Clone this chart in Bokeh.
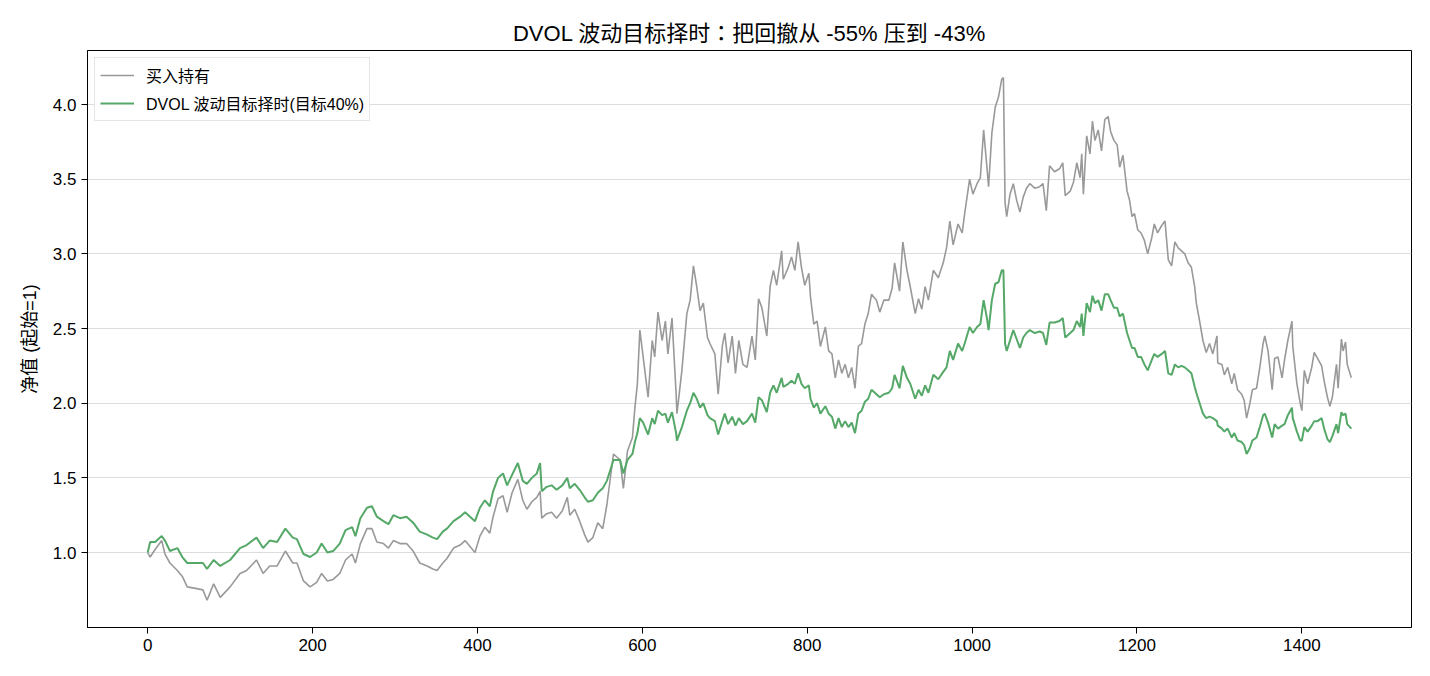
from bokeh.plotting import figure
from bokeh.models import Range1d, FixedTicker, Legend, LegendItem, NumeralTickFormatter
from bokeh.embed import file_html
from bokeh.resources import INLINE

# ---- data (day index, net value) ----
days = [0, 3, 9, 17, 21, 27, 36, 42, 48, 58, 67, 72, 80, 88, 100, 112, 120, 132, 140, 148,
        157, 167, 176, 181, 189, 197, 205, 211, 218, 225, 233, 240, 248, 252, 258, 266, 272, 278, 286, 292,
        298, 306, 314, 322, 330, 339, 346, 351, 358, 363, 371, 379, 385, 391, 397, 403, 409, 415, 419, 425,
        431, 436, 442, 449, 455, 460, 466, 472, 476, 478, 484, 490, 496, 503, 509, 512, 518, 524, 530, 534,
        540, 546, 552, 557, 565, 569, 573, 577, 582, 588, 591, 594, 597, 601, 607, 612, 615, 619, 624, 628,
        631, 636, 641, 642, 648, 654, 658, 662, 666, 670, 674, 679, 682, 688, 692, 697, 700, 704, 709, 713,
        717, 722, 727, 733, 737, 741, 745, 751, 755, 759, 763, 769, 771, 777, 781, 785, 789, 793, 797, 802,
        804, 808, 812, 816, 822, 826, 830, 834, 838, 842, 846, 850, 854, 858, 862, 866, 870, 874, 878, 884,
        888, 893, 899, 903, 906, 912, 916, 921, 925, 931, 935, 939, 943, 947, 953, 959, 965, 969, 973, 977,
        983, 988, 991, 997, 1001, 1006, 1010, 1014, 1018, 1020, 1024, 1028, 1032, 1036, 1038, 1040, 1042, 1046, 1050, 1054,
        1058, 1062, 1066, 1070, 1076, 1082, 1086, 1090, 1094, 1100, 1106, 1110, 1113, 1119, 1123, 1127, 1131, 1133, 1135, 1139,
        1143, 1146, 1149, 1153, 1157, 1161, 1165, 1168, 1172, 1176, 1179, 1183, 1188, 1191, 1194, 1197, 1201, 1205, 1209, 1213,
        1218, 1221, 1225, 1230, 1234, 1238, 1242, 1246, 1250, 1254, 1258, 1262, 1266, 1270, 1272, 1276, 1280, 1284, 1288, 1292,
        1297, 1298, 1303, 1306, 1310, 1315, 1318, 1322, 1327, 1330, 1333, 1337, 1340, 1345, 1349, 1353, 1355, 1359, 1364, 1367,
        1371, 1376, 1379, 1383, 1388, 1389, 1394, 1398, 1400, 1403, 1407, 1412, 1415, 1419, 1424, 1427, 1431, 1434, 1437, 1442,
        1444, 1448, 1450, 1453, 1455, 1460]

buy_hold = [1.00, 0.97, 1.02, 1.08, 0.99, 0.93, 0.88, 0.84, 0.77, 0.76, 0.75, 0.68, 0.79, 0.70, 0.77, 0.86, 0.88, 0.95, 0.86, 0.91,
            0.91, 1.01, 0.93, 0.93, 0.81, 0.77, 0.80, 0.86, 0.81, 0.82, 0.86, 0.95, 0.99, 0.93, 1.06, 1.16, 1.16, 1.07, 1.06, 1.03,
            1.08, 1.06, 1.06, 1.01, 0.93, 0.91, 0.89, 0.88, 0.93, 0.96, 1.03, 1.05, 1.08, 1.04, 1.00, 1.11, 1.17, 1.13, 1.24, 1.36,
            1.38, 1.27, 1.40, 1.49, 1.35, 1.29, 1.34, 1.37, 1.41, 1.23, 1.26, 1.27, 1.23, 1.28, 1.37, 1.25, 1.29, 1.21, 1.12, 1.07,
            1.10, 1.20, 1.16, 1.32, 1.66, 1.64, 1.62, 1.43, 1.68, 1.77, 1.97, 2.13, 2.49, 2.31, 2.04, 2.42, 2.31, 2.61, 2.42, 2.55,
            2.33, 2.57, 2.06, 1.93, 2.22, 2.60, 2.69, 2.92, 2.78, 2.62, 2.67, 2.44, 2.40, 2.33, 2.06, 2.38, 2.47, 2.27, 2.45, 2.20,
            2.42, 2.26, 2.24, 2.45, 2.29, 2.70, 2.64, 2.45, 2.78, 2.89, 2.79, 3.02, 2.83, 2.91, 2.98, 2.89, 3.08, 2.91, 2.79, 2.87,
            2.71, 2.53, 2.55, 2.38, 2.51, 2.35, 2.33, 2.17, 2.29, 2.20, 2.26, 2.17, 2.24, 2.10, 2.38, 2.40, 2.53, 2.60, 2.73, 2.69,
            2.61, 2.69, 2.69, 2.77, 2.94, 2.75, 3.08, 2.89, 2.78, 2.60, 2.70, 2.63, 2.78, 2.69, 2.89, 2.84, 2.94, 3.04, 3.22, 3.06,
            3.20, 3.14, 3.27, 3.50, 3.40, 3.47, 3.51, 3.83, 3.58, 3.45, 3.81, 3.98, 4.05, 4.17, 4.18, 3.34, 3.25, 3.40, 3.47, 3.36,
            3.28, 3.38, 3.44, 3.47, 3.44, 3.45, 3.47, 3.29, 3.59, 3.55, 3.57, 3.61, 3.39, 3.42, 3.48, 3.61, 3.51, 3.67, 3.40, 3.79,
            3.67, 3.89, 3.76, 3.83, 3.69, 3.90, 3.92, 3.82, 3.76, 3.73, 3.58, 3.66, 3.42, 3.36, 3.25, 3.27, 3.16, 3.14, 3.09, 3.00,
            3.11, 3.20, 3.14, 3.19, 3.22, 2.96, 2.92, 3.08, 3.04, 3.02, 3.00, 2.94, 2.91, 2.78, 2.67, 2.55, 2.42, 2.34, 2.40, 2.33,
            2.45, 2.27, 2.26, 2.19, 2.24, 2.13, 2.20, 2.09, 2.06, 2.02, 1.90, 2.00, 2.09, 2.10, 2.24, 2.40, 2.45, 2.35, 2.09, 2.30,
            2.31, 2.17, 2.29, 2.42, 2.55, 2.38, 2.13, 2.00, 1.95, 2.22, 2.13, 2.24, 2.34, 2.30, 2.25, 2.15, 2.04, 1.98, 2.04, 2.26,
            2.10, 2.43, 2.35, 2.41, 2.26, 2.17]

vol_target = [1.00, 1.07, 1.07, 1.11, 1.08, 1.01, 1.03, 0.97, 0.93, 0.93, 0.93, 0.89, 0.95, 0.91, 0.95, 1.03, 1.05, 1.10, 1.03, 1.08,
              1.07, 1.16, 1.10, 1.09, 0.99, 0.97, 1.00, 1.06, 1.00, 1.01, 1.06, 1.15, 1.17, 1.11, 1.23, 1.30, 1.31, 1.24, 1.21, 1.19,
              1.25, 1.23, 1.24, 1.20, 1.14, 1.12, 1.10, 1.09, 1.14, 1.16, 1.21, 1.24, 1.27, 1.24, 1.21, 1.30, 1.35, 1.31, 1.41, 1.50,
              1.53, 1.45, 1.52, 1.60, 1.48, 1.46, 1.50, 1.53, 1.60, 1.41, 1.44, 1.45, 1.42, 1.45, 1.50, 1.43, 1.46, 1.42, 1.37, 1.34,
              1.35, 1.40, 1.43, 1.48, 1.62, 1.62, 1.62, 1.53, 1.62, 1.66, 1.74, 1.80, 1.90, 1.87, 1.79, 1.90, 1.86, 1.95, 1.92, 1.93,
              1.87, 1.94, 1.80, 1.75, 1.84, 1.95, 2.00, 2.07, 2.03, 1.97, 2.00, 1.92, 1.90, 1.88, 1.79, 1.88, 1.93, 1.86, 1.91, 1.85,
              1.90, 1.86, 1.88, 1.93, 1.87, 2.04, 2.02, 1.94, 2.07, 2.12, 2.07, 2.17, 2.11, 2.13, 2.15, 2.13, 2.20, 2.13, 2.10, 2.12,
              2.03, 1.97, 2.00, 1.93, 1.98, 1.93, 1.91, 1.83, 1.90, 1.84, 1.88, 1.84, 1.87, 1.80, 1.93, 1.95, 2.01, 2.03, 2.09, 2.06,
              2.04, 2.06, 2.07, 2.10, 2.19, 2.10, 2.25, 2.17, 2.13, 2.03, 2.09, 2.05, 2.12, 2.07, 2.19, 2.16, 2.21, 2.24, 2.35, 2.29,
              2.40, 2.35, 2.40, 2.51, 2.47, 2.51, 2.53, 2.69, 2.57, 2.49, 2.69, 2.80, 2.81, 2.89, 2.89, 2.40, 2.35, 2.42, 2.49, 2.43,
              2.37, 2.44, 2.47, 2.49, 2.47, 2.48, 2.47, 2.39, 2.54, 2.54, 2.55, 2.57, 2.44, 2.47, 2.49, 2.55, 2.51, 2.60, 2.45, 2.67,
              2.61, 2.72, 2.67, 2.69, 2.62, 2.73, 2.73, 2.69, 2.64, 2.64, 2.58, 2.60, 2.47, 2.42, 2.37, 2.37, 2.31, 2.31, 2.26, 2.22,
              2.29, 2.33, 2.31, 2.33, 2.35, 2.20, 2.19, 2.26, 2.24, 2.25, 2.24, 2.22, 2.20, 2.11, 2.07, 2.00, 1.93, 1.90, 1.91, 1.90,
              1.88, 1.85, 1.83, 1.81, 1.83, 1.77, 1.80, 1.75, 1.74, 1.72, 1.66, 1.70, 1.75, 1.77, 1.84, 1.92, 1.93, 1.87, 1.77, 1.86,
              1.83, 1.85, 1.86, 1.92, 1.97, 1.90, 1.81, 1.75, 1.75, 1.84, 1.81, 1.85, 1.88, 1.88, 1.90, 1.83, 1.76, 1.74, 1.78, 1.86,
              1.80, 1.94, 1.92, 1.93, 1.86, 1.83]

x_ticks = [0, 200, 400, 600, 800, 1000, 1200, 1400]
y_ticks = [1.0, 1.5, 2.0, 2.5, 3.0, 3.5, 4.0]

title_text = "DVOL 波动目标择时：把回撤从 -55% 压到 -43%"
y_label = "净值 (起始=1)"
name_bh = "买入持有"
name_vt = "DVOL 波动目标择时(目标40%)"

FONT = "'Liberation Sans', 'Noto Sans CJK SC', sans-serif"
TITLE_FONT = "'Liberation Sans', 'Noto Sans CJK TC', sans-serif"

p = figure(width=1430, height=676, output_backend="svg", toolbar_location=None,
           x_range=Range1d(-73, 1533), y_range=Range1d(0.498, 4.362),
           min_border_left=87, min_border_right=19, min_border_top=50, min_border_bottom=49)

p.title.text = title_text
p.title.align = "center"
p.title.text_font = TITLE_FONT
p.title.text_font_size = "22px"
p.title.text_font_style = "normal"
p.title.text_color = "black"
p.title.standoff = 9

p.outline_line_color = "black"
p.outline_line_width = 1
p.background_fill_color = "white"
p.border_fill_color = "white"

p.xgrid.visible = False
p.ygrid.grid_line_color = "#dddddd"
p.ygrid.grid_line_width = 1
p.ygrid.ticker = FixedTicker(ticks=y_ticks)

for ax in (p.xaxis[0], p.yaxis[0]):
    ax.axis_line_color = "black"
    ax.major_tick_line_color = "black"
    ax.major_tick_out = 6
    ax.major_tick_in = 0
    ax.minor_tick_line_color = None
    ax.major_label_text_font = FONT
    ax.major_label_text_font_size = "17px"
    ax.major_label_text_color = "black"
    ax.major_label_standoff = 5

p.xaxis[0].ticker = FixedTicker(ticks=x_ticks)
p.yaxis[0].ticker = FixedTicker(ticks=y_ticks)
p.yaxis[0].formatter = NumeralTickFormatter(format="0.0")
p.yaxis[0].axis_label = y_label
p.yaxis[0].axis_label_text_font = FONT
p.yaxis[0].axis_label_text_font_size = "18px"
p.yaxis[0].axis_label_text_font_style = "normal"
p.yaxis[0].axis_label_text_color = "black"
p.yaxis[0].axis_label_standoff = 10

r1 = p.line(days, buy_hold, line_color="#999999", line_width=1.6)
r2 = p.line(days, vol_target, line_color="#55a868", line_width=2)

legend = Legend(items=[LegendItem(label=name_bh, renderers=[r1]),
                       LegendItem(label=name_vt, renderers=[r2])],
                location="top_left")
legend.label_text_font = FONT
legend.label_text_font_size = "16px"
legend.label_text_color = "black"
legend.border_line_color = "#cccccc"
legend.border_line_width = 1
legend.background_fill_alpha = 0.9
legend.glyph_width = 34
legend.glyph_height = 20
legend.label_standoff = 12
legend.label_height = 20
legend.spacing = 4
legend.padding = 5
legend.margin = 7
p.add_layout(legend)

open("out.html", "w").write(file_html(p, INLINE))
